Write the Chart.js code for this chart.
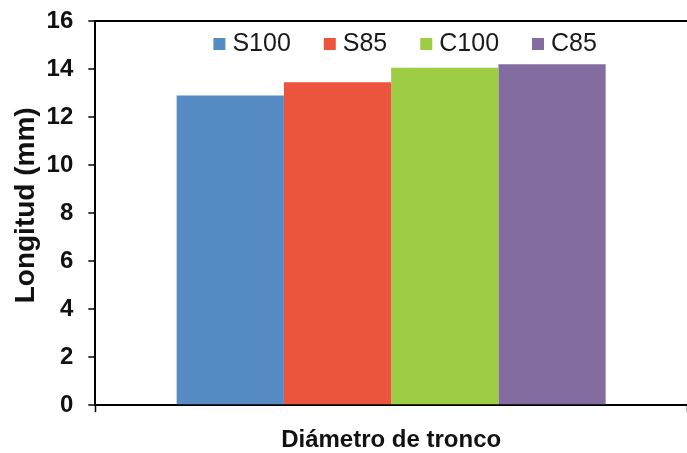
<!DOCTYPE html>
<html>
<head>
<meta charset="utf-8">
<script src="https://cdn.jsdelivr.net/npm/chart.js@4/dist/chart.umd.min.js"></script>
<style>
  html, body { margin: 0; padding: 0; background: #ffffff; }
  #wrap { width: 687px; height: 453px; }
</style>
</head>
<body>
<div id="wrap"><canvas id="c" width="687" height="453"></canvas></div>
<script>
// Single group of four treatments
const categories = [''];
const seriesNames = ['S100', 'S85', 'C100', 'C85'];
const s100 = [12.9];
const s85 = [13.45];
const c100 = [14.05];
const c85 = [14.2];
const yTickValues = [0, 2, 4, 6, 8, 10, 12, 14, 16];
const xTitle = 'Diámetro de tronco';
const yTitle = '  Longitud (mm)';

const seriesValues = [s100, s85, c100, c85];
const seriesColors = ['#568bc4', '#ec553d', '#9dcc45', '#826ca0'];

// Legend drawn inside the plot area, near its top
const innerLegend = {
  id: 'innerLegend',
  afterDatasetsDraw(chart) {
    const ctx = chart.ctx;
    const area = chart.chartArea;
    const font = '25px "Liberation Sans", Arial, sans-serif';
    const box = 12, boxGap = 7, itemGap = 33;
    ctx.save();
    ctx.font = font;
    const items = chart.data.datasets.map(ds => ({
      text: ds.label, color: ds.backgroundColor, w: ctx.measureText(ds.label).width
    }));
    let total = 0;
    items.forEach((it, i) => { total += box + boxGap + it.w + (i ? itemGap : 0); });
    let x = (area.left + area.right) / 2 + 14 - total / 2;
    const y = area.top + 23;
    ctx.textBaseline = 'middle';
    ctx.textAlign = 'left';
    items.forEach(it => {
      ctx.fillStyle = it.color;
      ctx.fillRect(x, y - box / 2, box, box);
      x += box + boxGap;
      ctx.fillStyle = '#1a1a1a';
      ctx.fillText(it.text, x, y);
      x += it.w + itemGap;
    });
    ctx.restore();
  }
};

new Chart(document.getElementById('c'), {
  type: 'bar',
  data: {
    labels: categories,
    datasets: seriesNames.map((name, i) => ({
      label: name,
      data: seriesValues[i],
      backgroundColor: seriesColors[i],
      borderWidth: 0,
      barPercentage: 1,
      categoryPercentage: 0.725
    }))
  },
  options: {
    responsive: false,
    animation: false,
    layout: { padding: { top: 21, left: 0, right: -3, bottom: -2 } },
    plugins: {
      legend: { display: false },
      tooltip: { enabled: false }
    },
    scales: {
      x: {
        border: { display: true, color: '#000', width: 2 },
        grid: { display: true, drawOnChartArea: false, drawTicks: true, tickLength: 7, tickColor: '#000', tickWidth: 1.5 },
        ticks: { display: false },
        title: {
          display: true, text: xTitle, color: '#111',
          font: { family: '"Liberation Sans", Arial, sans-serif', size: 24, weight: 'bold' },
          padding: { top: 14, bottom: 0 }
        }
      },
      y: {
        min: yTickValues[0],
        max: yTickValues[yTickValues.length - 1],
        afterBuildTicks(scale) { scale.ticks = yTickValues.map(v => ({ value: v })); },
        border: { display: true, color: '#000', width: 2 },
        grid: {
          display: true,
          drawOnChartArea: true,
          drawTicks: true,
          tickLength: 7,
          tickColor: '#000',
          tickWidth: 1.5,
          lineWidth: 2,
          color: c => (c.tick && c.tick.value === 16) ? '#000' : 'rgba(0,0,0,0)'
        },
        ticks: {
          color: '#111',
          padding: 15,
          font: { family: '"Liberation Sans", Arial, sans-serif', size: 24, weight: 'bold', lineHeight: 0.25 }
        },
        title: {
          display: true, text: yTitle, color: '#111',
          font: { family: '"Liberation Sans", Arial, sans-serif', size: 28, weight: 'bold' },
          padding: { top: 9, bottom: -11 }
        }
      }
    }
  },
  plugins: [innerLegend]
});
</script>
</body>
</html>
